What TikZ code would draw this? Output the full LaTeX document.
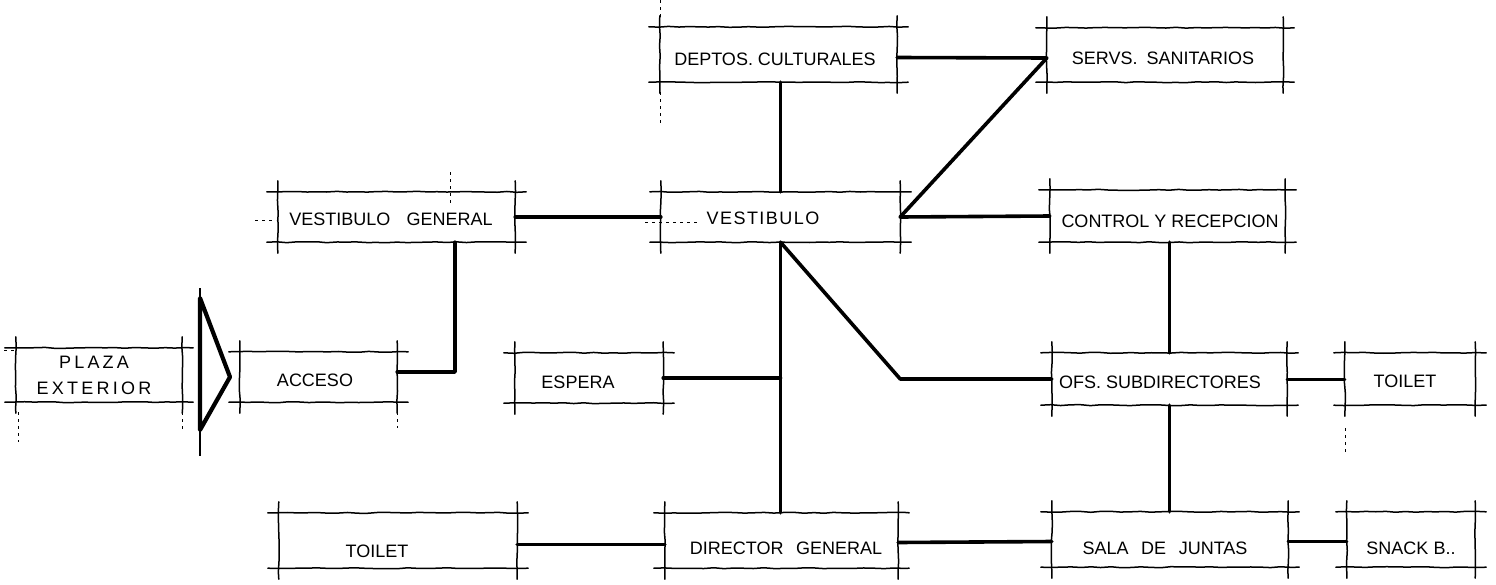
\documentclass[tikz,border=0pt]{standalone}
\usepackage{fontspec}
\setmainfont{Liberation Sans}
\newfontfamily\plazafont[LetterSpace=18]{Liberation Sans}
\newfontfamily\widefont[LetterSpace=8]{Liberation Sans}
\usetikzlibrary{decorations.pathmorphing,calc}
\tikzset{
  box/.style={draw=none, rectangle, inner sep=0pt},
  edge/.style={line width=1.5pt, line cap=round,
    decorate, decoration={random steps, segment length=10pt, amplitude=0.5pt}},
  link/.style={line width=3.6pt, line cap=round, line join=round},
  txt/.style={font=\fontsize{18}{20}\selectfont, inner sep=0pt},
  guide/.style={line width=0.7pt, dash pattern=on 3pt off 4pt},
}
\newcommand\room[5]{%
  \node[box, minimum width={#4-#2}, minimum height={#5-#3}] (#1) at ({(#2+#4)/2},{(#3+#5)/2}) {};
  \draw[edge] ([xshift=-11pt]#1.north west) -- ([xshift=11pt]#1.north east);
  \draw[edge] ([xshift=-11pt]#1.south west) -- ([xshift=11pt]#1.south east);
  \draw[edge] ([yshift=11pt]#1.north west) -- ([yshift=-11pt]#1.south west);
  \draw[edge] ([yshift=11pt]#1.north east) -- ([yshift=-11pt]#1.south east);
}
\begin{document}
\begin{tikzpicture}[x=1pt, y=-1pt]
\useasboundingbox (0,0) rectangle (1496,584);
\fill[white] (0,0) rectangle (1496,584);

% rooms
\room{plaza}{16}{348}{182}{402}
\room{acceso}{240}{352}{397}{402}
\room{vg}{278}{192}{515}{242}
\room{vest}{661}{192}{900}{242}
\room{deptos}{660}{27}{897}{82}
\room{servs}{1047}{28}{1283}{82}
\room{control}{1050}{190}{1285}{242}
\room{espera}{515}{353}{663}{403}
\room{ofs}{1052}{353}{1287}{405}
\room{toiletR}{1345}{353}{1475}{405}
\room{toiletB}{279}{513}{517}{568}
\room{director}{665}{513}{898}{568}
\room{sala}{1052}{512}{1288}{567}
\room{snack}{1347}{512}{1475}{567}

% labels
\node[txt, align=center, font=\plazafont\fontsize{18}{26}\selectfont] (plaza-t) at (94,375) {PLAZA\\EXTERIOR};
\node[txt] (acceso-t) at (315,380) {ACCESO};
\node[txt] (vg-t) at (391,219) {VESTIBULO\hspace{0.9em}GENERAL};
\node[txt, font=\widefont\fontsize{18}{20}\selectfont] (vest-t) at (763,218) {VESTIBULO};
\node[txt] (deptos-t) at (775,59) {DEPTOS. CULTURALES};
\node[txt] (servs-t) at (1163,58) {SERVS.\hspace{0.5em}SANITARIOS};
\node[txt] (control-t) at (1170,221) {CONTROL Y RECEPCION};
\node[txt] (espera-t) at (578,382) {ESPERA};
\node[txt] (ofs-t) at (1160,382) {OFS. SUBDIRECTORES};
\node[txt] (toiletR-t) at (1405,381) {TOILET};
\node[txt] (toiletB-t) at (377,551) {TOILET};
\node[txt] (director-t) at (786,548) {DIRECTOR\hspace{0.7em}GENERAL};
\node[txt] (sala-t) at (1165,548) {SALA\hspace{0.7em}DE\hspace{0.7em}JUNTAS};
\node[txt] (snack-t) at (1411,548) {SNACK\hspace{0.3em}B..};

% entrance triangle
\coordinate (tA) at (200,298);
\coordinate (tB) at (230,377);
\coordinate (tC) at (200,430);
\draw[line width=4.2pt, line join=round] (tA) -- (tB) -- (tC) -- cycle;
\draw[line width=1.4pt] (200,288) -- (tA);
\draw[line width=1.4pt] (tC) -- (200,456);

% connectors
\coordinate (j1) at (455,372);
\draw[link] ([yshift=5pt]acceso.east) -- (j1) -- (j1 |- vg.south);
\draw[link] (vg.east) -- (vest.west);
\draw[link] (deptos.south -| vest.north) -- (vest.north);
\draw[link] ([yshift=-3pt]deptos.east) -- ([yshift=-3pt]servs.west);
\draw[link] ([yshift=-3pt]servs.west) -- (vest.east);
\draw[link] (vest.east) -- (control.west);
\draw[link] (control.south -| ofs.north) -- (ofs.north);
\draw[link] (ofs.south) -- (ofs.south |- sala.north);
\draw[link, line width=3pt] (ofs.east) -- (toiletR.west);
\draw[link] (vest.south) -- (vest.south |- director.north);
\draw[link] (espera.east) -- (espera.east -| vest.south);
\coordinate (k) at (ofs.west -| vest.east);
\draw[link] (vest.south) -- (k) -- (ofs.west);
\draw[link] ([yshift=-4pt]toiletB.east) -- ([yshift=-4pt]director.west);
\draw[link] ([yshift=-2pt]director.east) -- ([yshift=-2pt]sala.west);
\draw[link, line width=3pt] ([yshift=-2pt]sala.east) -- ([yshift=-2pt]snack.west);

% construction guides
\draw[guide] (660,0) -- (660,20);
\draw[guide] (660,92) -- (660,125);
\draw[guide] (450,172) -- (450,205);
\draw[guide] (255,220) -- (276,220);
\draw[guide] (645,222) -- (698,222);
\draw[guide] (18,412) -- (18,442);
\draw[guide] (182,412) -- (182,432);
\draw[guide] (397,412) -- (397,428);
\draw[guide] (1345,428) -- (1345,452);
\draw[guide] (4,350) -- (14,350);
\end{tikzpicture}
\end{document}
